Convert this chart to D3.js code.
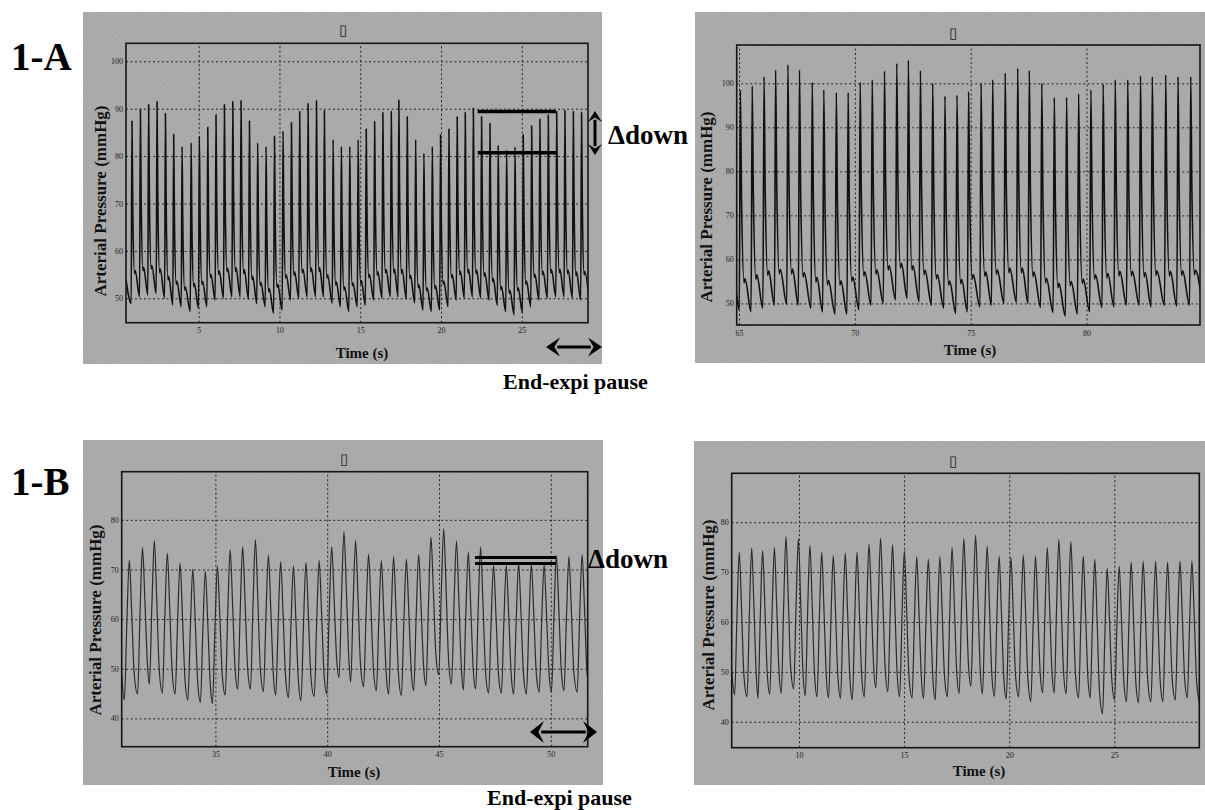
<!DOCTYPE html>
<html>
<head>
<meta charset="utf-8">
<script src="https://cdn.jsdelivr.net/npm/d3@7"></script>
<style>
  body { margin: 0; background: #fff; }
  svg { display: block; }
  text { font-family: "Liberation Serif", "Times New Roman", serif; }
</style>
</head>
<body>
<svg id="chart" width="1205" height="810"></svg>
<script>
// ---- data: one entry per heart beat ----
// times = peak time (s), sys = peak (mmHg), dia = trough before each peak (+ one after the last)

// 1-A, left trace
var aLeftTimes = [0.87, 1.39, 1.9, 2.42, 2.94, 3.45, 3.97, 4.53, 5.04, 5.56, 6.07, 6.59, 7.11, 7.62, 8.14, 8.65, 9.17, 9.69, 10.22, 10.74,
    11.25, 11.77, 12.29, 12.78, 13.32, 13.83, 14.35, 14.87, 15.37, 15.89, 16.4, 16.92, 17.39, 17.91, 18.43, 18.94, 19.46, 19.97, 20.49, 21.0,
    21.5, 22.0, 22.51, 23.03, 23.54, 24.06, 24.58, 25.09, 25.61, 26.12, 26.64, 27.16, 27.67, 28.19, 28.7];
var aLeftSys = [87.4, 89.9, 90.9, 91.5, 89.0, 84.6, 82.0, 82.8, 84.2, 86.1, 88.7, 90.9, 91.5, 91.7, 87.4, 82.8, 82.0, 84.2, 85.3, 87.1,
    89.4, 91.1, 91.7, 89.6, 83.5, 82.0, 82.0, 83.5, 85.7, 87.3, 89.2, 89.4, 91.8, 88.3, 83.5, 80.6, 82.0, 84.5, 85.7, 88.3,
    89.2, 90.1, 88.3, 86.9, 82.3, 81.3, 81.9, 84.5, 86.4, 87.8, 88.7, 89.4, 89.6, 89.4, 89.2];
var aLeftDia = [48.9, 50.3, 50.7, 51.0, 50.0, 48.6, 48.2, 47.2, 47.9, 48.2, 49.6, 50.0, 50.3, 50.3, 49.8, 48.9, 48.2, 46.8, 47.5, 49.6,
    50.0, 50.3, 50.3, 50.3, 48.9, 48.2, 47.2, 48.2, 48.5, 49.6, 50.0, 50.3, 50.3, 49.8, 49.0, 47.5, 47.2, 47.5, 48.2, 49.6,
    50.0, 50.3, 50.0, 49.6, 48.5, 47.2, 46.5, 47.0, 48.2, 49.6, 50.0, 50.3, 50.3, 50.0, 49.6, 49.8];
var aLeftEdge = 54;

// 1-A, right trace
var aRightTimes = [65.06, 65.57, 66.08, 66.58, 67.11, 67.61, 68.16, 68.66, 69.2, 69.71, 70.23, 70.75, 71.28, 71.81, 72.31, 72.83, 73.36, 73.89, 74.41, 74.91,
    75.45, 75.95, 76.49, 77.03, 77.53, 78.07, 78.61, 79.14, 79.66, 80.19, 80.72, 81.24, 81.78, 82.33, 82.84, 83.42, 83.95, 84.5];
var aRightSys = [98.5, 99.4, 101.5, 103, 104.2, 103, 100.2, 98.5, 97.9, 97.9, 100.2, 100.8, 102.8, 104.5, 105.2, 102.9, 100, 97.1, 97.3, 98.1,
    100, 100.8, 102.3, 103.4, 102.9, 100, 96.8, 96.8, 97.6, 98.5, 99.8, 100.8, 100.8, 101.7, 101.5, 101.9, 101.5, 101.5];
var aRightDia = [48.5, 48.1, 48.9, 49.6, 49.8, 49.6, 48.9, 48.1, 47.6, 47.6, 48.6, 49.6, 50, 50.8, 51.1, 50.4, 49.6, 48.9, 47.7, 48.1,
    49.2, 49.6, 50, 50.2, 50, 49.1, 47.9, 47.1, 47.6, 48.1, 49.1, 49.2, 49.6, 49.6, 49.2, 49.6, 49.4, 49.6, 49.8];
var aRightEdge = 52;

// 1-B, left trace
var bLeftTimes = [31.15, 31.74, 32.27, 32.85, 33.42, 33.99, 34.55, 35.09, 35.66, 36.22, 36.79, 37.37, 37.92, 38.49, 39.05, 39.64, 40.2, 40.75,
    41.27, 41.85, 42.42, 42.97, 43.54, 44.09, 44.64, 45.21, 45.78, 46.31, 46.86, 47.44, 48.01, 48.56, 49.13, 49.7, 50.25, 50.81, 51.4];
var bLeftSys = [71.9, 74.4, 75.8, 73.3, 71.3, 70.1, 69.7, 70.7, 74.0, 74.6, 76.0, 72.9, 71.6, 70.7, 71.4, 71.8, 74.6, 77.6,
    75.8, 73.1, 71.8, 72.6, 72.1, 73.0, 76.5, 78.2, 75.7, 73.5, 74.5, 70.8, 70.8, 71.3, 71.1, 71.0, 72.8, 72.6, 73.0];
var bLeftDia = [43.7, 44.9, 46.9, 45.1, 44.9, 43.7, 43.2, 43.0, 44.7, 45.9, 45.9, 45.4, 44.7, 44.2, 43.6, 44.4, 44.9, 48.2,
    47.3, 46.4, 45.6, 44.9, 44.6, 45.6, 46.6, 48.8, 46.9, 45.7, 45.9, 45.1, 45.1, 44.9, 44.9, 45.3, 45.3, 45.6, 45.3, 45.0];
var bLeftEdge = 49;

// 1-B, right trace
var bRightTimes = [7.16, 7.75, 8.27, 8.83, 9.38, 9.97, 10.52, 11.08, 11.63, 12.2, 12.76, 13.33, 13.88, 14.45, 15.01, 15.6, 16.15, 16.7, 17.28,
    17.84, 18.4, 18.95, 19.52, 20.08, 20.67, 21.25, 21.81, 22.36, 22.93, 23.52, 24.07, 24.66, 25.23, 25.8, 26.37, 26.96, 27.53, 28.12, 28.69];
var bRightSys = [74.0, 74.8, 74.3, 74.9, 77.1, 76.7, 75.3, 74.0, 73.3, 73.8, 74.0, 75.6, 76.8, 75.5, 74.3, 73.1, 72.6, 73.1, 74.9,
    76.7, 77.4, 75.2, 73.2, 73.0, 73.4, 73.2, 74.9, 76.5, 76.1, 73.2, 72.6, 70.8, 71.2, 72.0, 72.2, 72.2, 72.0, 72.2, 72.2];
var bRightDia = [45.4, 45.0, 44.7, 45.5, 45.7, 46.6, 45.2, 45.0, 44.8, 44.7, 44.4, 45.0, 46.8, 46.0, 45.0, 44.8, 44.7, 44.4, 45.0,
    45.7, 47.1, 45.6, 45.1, 44.6, 45.0, 44.1, 45.8, 45.8, 45.6, 44.8, 44.8, 41.6, 44.4, 44.0, 43.8, 44.0, 44.0, 44.4, 44.8, 44.0];
var bRightEdge = 50;

// axis ranges and ticks
var aLeftXRange = [0.5, 29.1], aLeftYRange = [44.85, 103.8];
var aRightXRange = [64.9, 84.9], aRightYRange = [45.1, 108.7];
var bLeftXRange = [30.81, 51.65], bLeftYRange = [34.3, 89.7];
var bRightXRange = [6.8, 29.04], bRightYRange = [34.8, 89.8];
var aLeftXTicks = [5, 10, 15, 20, 25], aRightXTicks = [65, 70, 75, 80];
var bLeftXTicks = [35, 40, 45, 50], bRightXTicks = [10, 15, 20, 25];
var aYTicks = [50, 60, 70, 80, 90, 100], bYTicks = [40, 50, 60, 70, 80];

// Δdown reference levels (mmHg) and their time span (s)
var aDownLevels = [89.4, 80.7], aDownSpan = [22.27, 27.12];
var bDownLevels = [72.4, 71.2], bDownSpan = [46.61, 50.23];

// beat shapes: [time offset from peak, fraction of pulse height]
var spikeShape = [[-0.05, 0], [0, 1], [0.05, 0.5], [0.16, 0.13], [0.2, 0.15]];
var roundShape = [[-0.22, 0], [-0.11, 0.55], [0, 1], [0.11, 0.6], [0.22, 0.15]];

function wavePoints(times, sys, dia, shape, xr, edge) {
    var pts = [[xr[0], edge]];
    times.forEach(function(t, i) {
        shape.forEach(function(k) {
            var base = k[0] <= 0 ? dia[i] : dia[i + 1];
            pts.push([t + k[0], base + k[1] * (sys[i] - base)]);
        });
    });
    var n = times.length,
        period = times[n - 1] - times[n - 2];
    pts.push([times[n - 1] + period + shape[0][0], dia[n]]);
    return pts;
}

var svg = d3.select("#chart");

var defs = svg.append("defs");
var grain = defs.append("filter")
    .attr("id", "grain")
    .attr("x", 0).attr("y", 0)
    .attr("width", 1).attr("height", 1);
grain.append("feTurbulence")
    .attr("type", "fractalNoise")
    .attr("baseFrequency", 0.9)
    .attr("numOctaves", 2)
    .attr("seed", 4);
grain.append("feColorMatrix").attr("type", "saturate").attr("values", 0);

var panels = [
    { id: "aL", gray: [83, 12, 602, 364], frame: [126, 43.3, 588, 322.7], xr: aLeftXRange, yr: aLeftYRange,
      xt: aLeftXTicks, yt: aYTicks, pts: wavePoints(aLeftTimes, aLeftSys, aLeftDia, spikeShape, aLeftXRange, aLeftEdge),
      title: [343, 32], ylab: [102, 201], xlab: [362, 355], stroke: "#111", sw: 1.6 },
    { id: "aR", gray: [695, 12, 1205, 363], frame: [736.7, 45, 1200, 325], xr: aRightXRange, yr: aRightYRange,
      xt: aRightXTicks, yt: aYTicks, pts: wavePoints(aRightTimes, aRightSys, aRightDia, spikeShape, aRightXRange, aRightEdge),
      title: [953, 35], ylab: [708, 207], xlab: [970, 352], stroke: "#111", sw: 1.6 },
    { id: "bL", gray: [83, 440, 603, 785], frame: [121.7, 471.7, 587.7, 746.7], xr: bLeftXRange, yr: bLeftYRange,
      xt: bLeftXTicks, yt: bYTicks, pts: wavePoints(bLeftTimes, bLeftSys, bLeftDia, roundShape, bLeftXRange, bLeftEdge),
      title: [344, 461], ylab: [97, 620], xlab: [354, 774], stroke: "#2a2a2a", sw: 1.2 },
    { id: "bR", gray: [694, 441, 1205, 785], frame: [731.7, 473.3, 1199.3, 747.7], xr: bRightXRange, yr: bRightYRange,
      xt: bRightXTicks, yt: bYTicks, pts: wavePoints(bRightTimes, bRightSys, bRightDia, roundShape, bRightXRange, bRightEdge),
      title: [953, 463], ylab: [710, 615], xlab: [979, 773], stroke: "#2a2a2a", sw: 1.2 }
];

panels.forEach(function(p) {
    var f = p.frame;
    var x = d3.scaleLinear().domain(p.xr).range([f[0], f[2]]);
    var y = d3.scaleLinear().domain(p.yr).range([f[3], f[1]]);
    p.x = x;
    p.y = y;

    var g = svg.append("g").attr("class", "panel-" + p.id);

    g.append("rect")
        .attr("x", p.gray[0]).attr("y", p.gray[1])
        .attr("width", p.gray[2] - p.gray[0]).attr("height", p.gray[3] - p.gray[1])
        .attr("fill", "#a9a9a9");
    g.append("rect")
        .attr("x", p.gray[0]).attr("y", p.gray[1])
        .attr("width", p.gray[2] - p.gray[0]).attr("height", p.gray[3] - p.gray[1])
        .attr("filter", "url(#grain)")
        .attr("opacity", 0.12);

    defs.append("clipPath").attr("id", "clip-" + p.id)
        .append("rect")
        .attr("x", f[0]).attr("y", f[1])
        .attr("width", f[2] - f[0]).attr("height", f[3] - f[1]);

    // dotted grid + tick labels
    var xAxis = d3.axisBottom(x).tickValues(p.xt).tickSize(-(f[3] - f[1])).tickPadding(5).tickFormat(d3.format("d"));
    var yAxis = d3.axisLeft(y).tickValues(p.yt).tickSize(-(f[2] - f[0])).tickPadding(3).tickFormat(d3.format("d"));

    [g.append("g").attr("transform", "translate(0," + f[3] + ")").call(xAxis),
     g.append("g").attr("transform", "translate(" + f[0] + ",0)").call(yAxis)].forEach(function(ax) {
        ax.select(".domain").remove();
        ax.selectAll(".tick line")
            .attr("stroke", "#262626")
            .attr("stroke-width", 1)
            .attr("stroke-dasharray", "2,2.5");
        ax.selectAll(".tick text")
            .attr("fill", "#1e1e1e")
            .attr("font-size", 8)
            .attr("font-family", "'Liberation Sans', Arial, sans-serif");
    });

    g.append("path")
        .datum(p.pts)
        .attr("clip-path", "url(#clip-" + p.id + ")")
        .attr("fill", "none")
        .attr("stroke", p.stroke)
        .attr("stroke-width", p.sw)
        .attr("stroke-linejoin", "round")
        .attr("d", d3.line()
            .x(function(d) { return x(d[0]); })
            .y(function(d) { return y(d[1]); })
            .curve(d3.curveMonotoneX));

    g.append("rect")
        .attr("x", f[0]).attr("y", f[1])
        .attr("width", f[2] - f[0]).attr("height", f[3] - f[1])
        .attr("fill", "none")
        .attr("stroke", "#151515")
        .attr("stroke-width", 1.6);

    // missing-glyph title box, as exported
    g.append("text")
        .attr("x", p.title[0]).attr("y", p.title[1])
        .attr("text-anchor", "middle")
        .attr("dominant-baseline", "middle")
        .attr("font-family", "'DejaVu Sans', sans-serif")
        .attr("font-size", 15)
        .attr("fill", "#222")
        .text("\u25AF");

    g.append("text")
        .attr("transform", "translate(" + p.ylab[0] + "," + p.ylab[1] + ") rotate(-90)")
        .attr("text-anchor", "middle")
        .attr("dominant-baseline", "middle")
        .attr("font-size", 17)
        .attr("font-weight", "bold")
        .attr("fill", "#111")
        .text("Arterial Pressure (mmHg)");

    g.append("text")
        .attr("x", p.xlab[0]).attr("y", p.xlab[1])
        .attr("text-anchor", "middle")
        .attr("dominant-baseline", "middle")
        .attr("font-size", 15)
        .attr("font-weight", "bold")
        .attr("fill", "#111")
        .text("Time (s)");
});

// ---- annotations ----
function doubleArrow(x1, y1, x2, y2, headLen, headHalf, shaft) {
    var len = Math.hypot(x2 - x1, y2 - y1),
        dx = (x2 - x1) / len, dy = (y2 - y1) / len,
        nx = -dy, ny = dx;
    var a = svg.append("g").attr("class", "arrow");
    a.append("line")
        .attr("x1", x1 + dx * headLen * 0.8).attr("y1", y1 + dy * headLen * 0.8)
        .attr("x2", x2 - dx * headLen * 0.8).attr("y2", y2 - dy * headLen * 0.8)
        .attr("stroke", "#000").attr("stroke-width", shaft);
    [[x1, y1, 1], [x2, y2, -1]].forEach(function(e) {
        var bx = e[0] + e[2] * dx * headLen, by = e[1] + e[2] * dy * headLen;
        a.append("path")
            .attr("d", "M" + e[0] + "," + e[1] +
                "L" + (bx + nx * headHalf) + "," + (by + ny * headHalf) +
                "L" + (e[0] + e[2] * dx * headLen * 0.6) + "," + (e[1] + e[2] * dy * headLen * 0.6) +
                "L" + (bx - nx * headHalf) + "," + (by - ny * headHalf) + "Z")
            .attr("fill", "#000");
    });
}

function downLines(p, levels, span, width) {
    svg.append("g").selectAll("line")
        .data(levels)
        .enter()
        .append("line")
        .attr("x1", p.x(span[0]))
        .attr("x2", p.x(span[1]))
        .attr("y1", function(d) { return p.y(d); })
        .attr("y2", function(d) { return p.y(d); })
        .attr("stroke", "#000")
        .attr("stroke-width", width);
}

downLines(panels[0], aDownLevels, aDownSpan, 3.4);
downLines(panels[2], bDownLevels, bDownSpan, 3);

doubleArrow(595, 111, 595, 155, 11, 7, 3);
doubleArrow(546, 347, 602, 347, 14, 9.5, 3);
doubleArrow(530, 732, 597, 732, 14, 11, 3);

function label(x, yy, size, txt) {
    svg.append("text")
        .attr("x", x).attr("y", yy)
        .attr("font-size", size)
        .attr("font-weight", "bold")
        .attr("fill", "#000")
        .text(txt);
}

label(11, 70, 39, "1-A");
label(11, 495, 39, "1-B");
label(608, 144, 27, "\u0394down");
label(588, 568, 27, "\u0394down");
label(503, 389, 22, "End-expi pause");
label(487, 805, 22, "End-expi pause");
</script>
</body>
</html>
